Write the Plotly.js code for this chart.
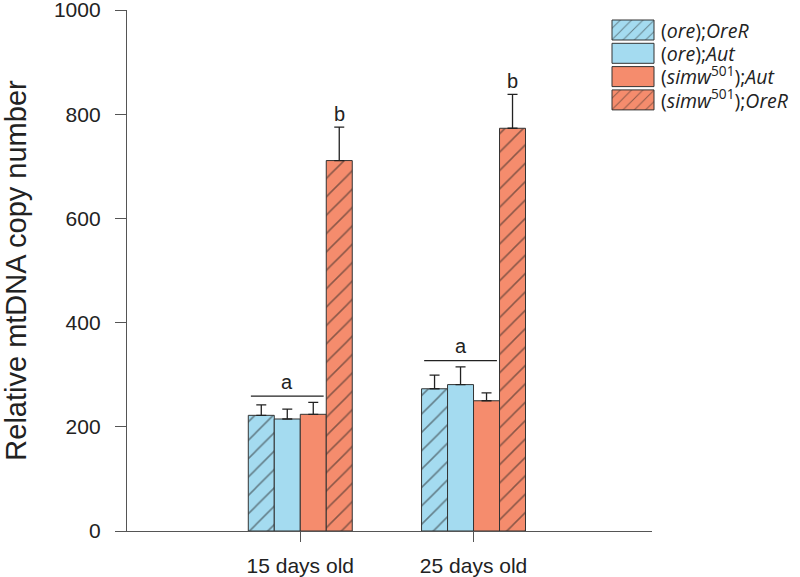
<!DOCTYPE html>
<html><head><meta charset="utf-8">
<script src="https://cdn.plot.ly/plotly-3.0.1.min.js"></script>
<style>html,body{margin:0;padding:0;background:#fff}#chart{width:800px;height:577px}</style>
</head><body><div id="chart"></div>
<script>
const categories = ["15 days old", "25 days old"];
const seriesNames = ["(<i>ore</i>);<i>OreR</i>", "(<i>ore</i>);<i>Aut</i>", "(<i>simw</i><sup>501</sup>);<i>Aut</i>", "(<i>simw</i><sup>501</sup>);<i>OreR</i>"];
const oreOreR = [222, 273];
const oreAut = [215, 281];
const simwAut = [224, 250];
const simwOreR = [711, 773];
const errOreOreR = [20, 26];
const errOreAut = [19, 34];
const errSimwAut = [23, 15];
const errSimwOreR = [64, 65];
const letterA = "a";
const letterB = "b";

const blue = "#a4dbf0", salmon = "#f58c6d";
const fills = [blue, blue, salmon, salmon];
const hatched = [true, false, false, true];
const vals = [oreOreR, oreAut, simwAut, simwOreR];
const errs = [errOreOreR, errOreAut, errSimwAut, errSimwOreR];

const traces = vals.map((v, i) => ({
  type: "bar", x: categories, y: v, name: seriesNames[i],
  marker: {
    color: fills[i],
    line: {color: "#333", width: 1},
    pattern: hatched[i] ? {shape: "/", fgcolor: "#222", bgcolor: fills[i], size: 13, solidity: 0.12, fillmode: "overlay"} : {shape: ""}
  },
  error_y: {type: "data", symmetric: false, array: errs[i], arrayminus: errs[i].map(() => 0), color: "#222", thickness: 1.3, width: 5},
  hoverinfo: "skip"
}));

const annotations = [];
const shapes = [];
[0, 1].forEach(g => {
  const topA = Math.max(...[0,1,2].map(i => vals[i][g] + errs[i][g]));
  const lineY = topA + 12;
  shapes.push({type: "line", xref: "x", yref: "y", x0: g - 0.285, x1: g + 0.135, y0: lineY, y1: lineY, line: {color: "#222", width: 1.3}});
  annotations.push({xref: "x", yref: "y", x: g - 0.075, y: lineY + 3, text: letterA, showarrow: false, yanchor: "bottom", font: {size: 20, color: "#222"}});
  annotations.push({xref: "x", yref: "y", x: g + 0.225, y: vals[3][g] + errs[3][g] + 1, text: letterB, showarrow: false, yanchor: "bottom", font: {size: 20, color: "#222"}});
});

const layout = {
  width: 800, height: 577,
  margin: {l: 127, r: 148, t: 10, b: 46},
  paper_bgcolor: "#fff", plot_bgcolor: "#fff",
  font: {family: "Liberation Sans, Arial, sans-serif", color: "#222"},
  barmode: "group", bargap: 0.4, bargroupgap: 0,
  showlegend: true,
  legend: {x: 0.6, xanchor: "left", y: 0.95, yanchor: "top", font: {size: 19.5, color: "#222", family: "Open Sans, sans-serif"}, itemwidth: 46, bgcolor: "rgba(0,0,0,0)"},
  xaxis: {range: [-1, 2.03], showline: true, linecolor: "#555", linewidth: 1.2, ticks: "outside", ticklen: 10, tickcolor: "#555", tickfont: {size: 21}, ticklabelstandoff: 6, showgrid: false, zeroline: false, fixedrange: true},
  yaxis: {range: [0, 1000], tickvals: [0, 200, 400, 600, 800, 1000], showline: true, linecolor: "#555", linewidth: 1.2, ticks: "outside", ticklen: 11, tickcolor: "#555", tickfont: {size: 21}, ticklabelstandoff: 10, ticklabeloverflow: "allow", showgrid: false, zeroline: false,
    title: {text: "Relative mtDNA copy number", font: {size: 29}, standoff: 30}},
  shapes: shapes, annotations: annotations
};
const gd = document.getElementById("chart");
Plotly.newPlot(gd, traces, layout, {displayModeBar: false, staticPlot: true}).then(() => {
  gd.querySelectorAll(".legend .legendpoints path").forEach(p => {
    p.setAttribute("d", "M21,10H-21V-10H21Z");
  });
  const items = gd.querySelectorAll(".legend .traces");
  if (items.length) {
    const m = /translate\(\s*([-\d.]+)[ ,]+([-\d.]+)/.exec(items[0].getAttribute("transform") || "");
    const x0 = m ? parseFloat(m[1]) : 0, y0 = m ? parseFloat(m[2]) : 0;
    items.forEach((it, i) => it.setAttribute("transform", "translate(" + x0 + "," + (y0 + i * 23.3) + ")"));
  }
  const leg = gd.querySelector(".legend");
  const sw = gd.querySelector(".legend .legendpoints path");
  if (leg && sw) {
    const r = sw.getBoundingClientRect();
    const m2 = /translate\(\s*([-\d.]+)[ ,]+([-\d.]+)/.exec(leg.getAttribute("transform") || "");
    let lx = m2 ? parseFloat(m2[1]) : 0, ly = m2 ? parseFloat(m2[2]) : 0;
    lx += 612 - r.left;
    ly += 30 - (r.top + r.height / 2);
    leg.setAttribute("transform", "translate(" + lx + "," + ly + ")");
  }
});
</script></body></html>
